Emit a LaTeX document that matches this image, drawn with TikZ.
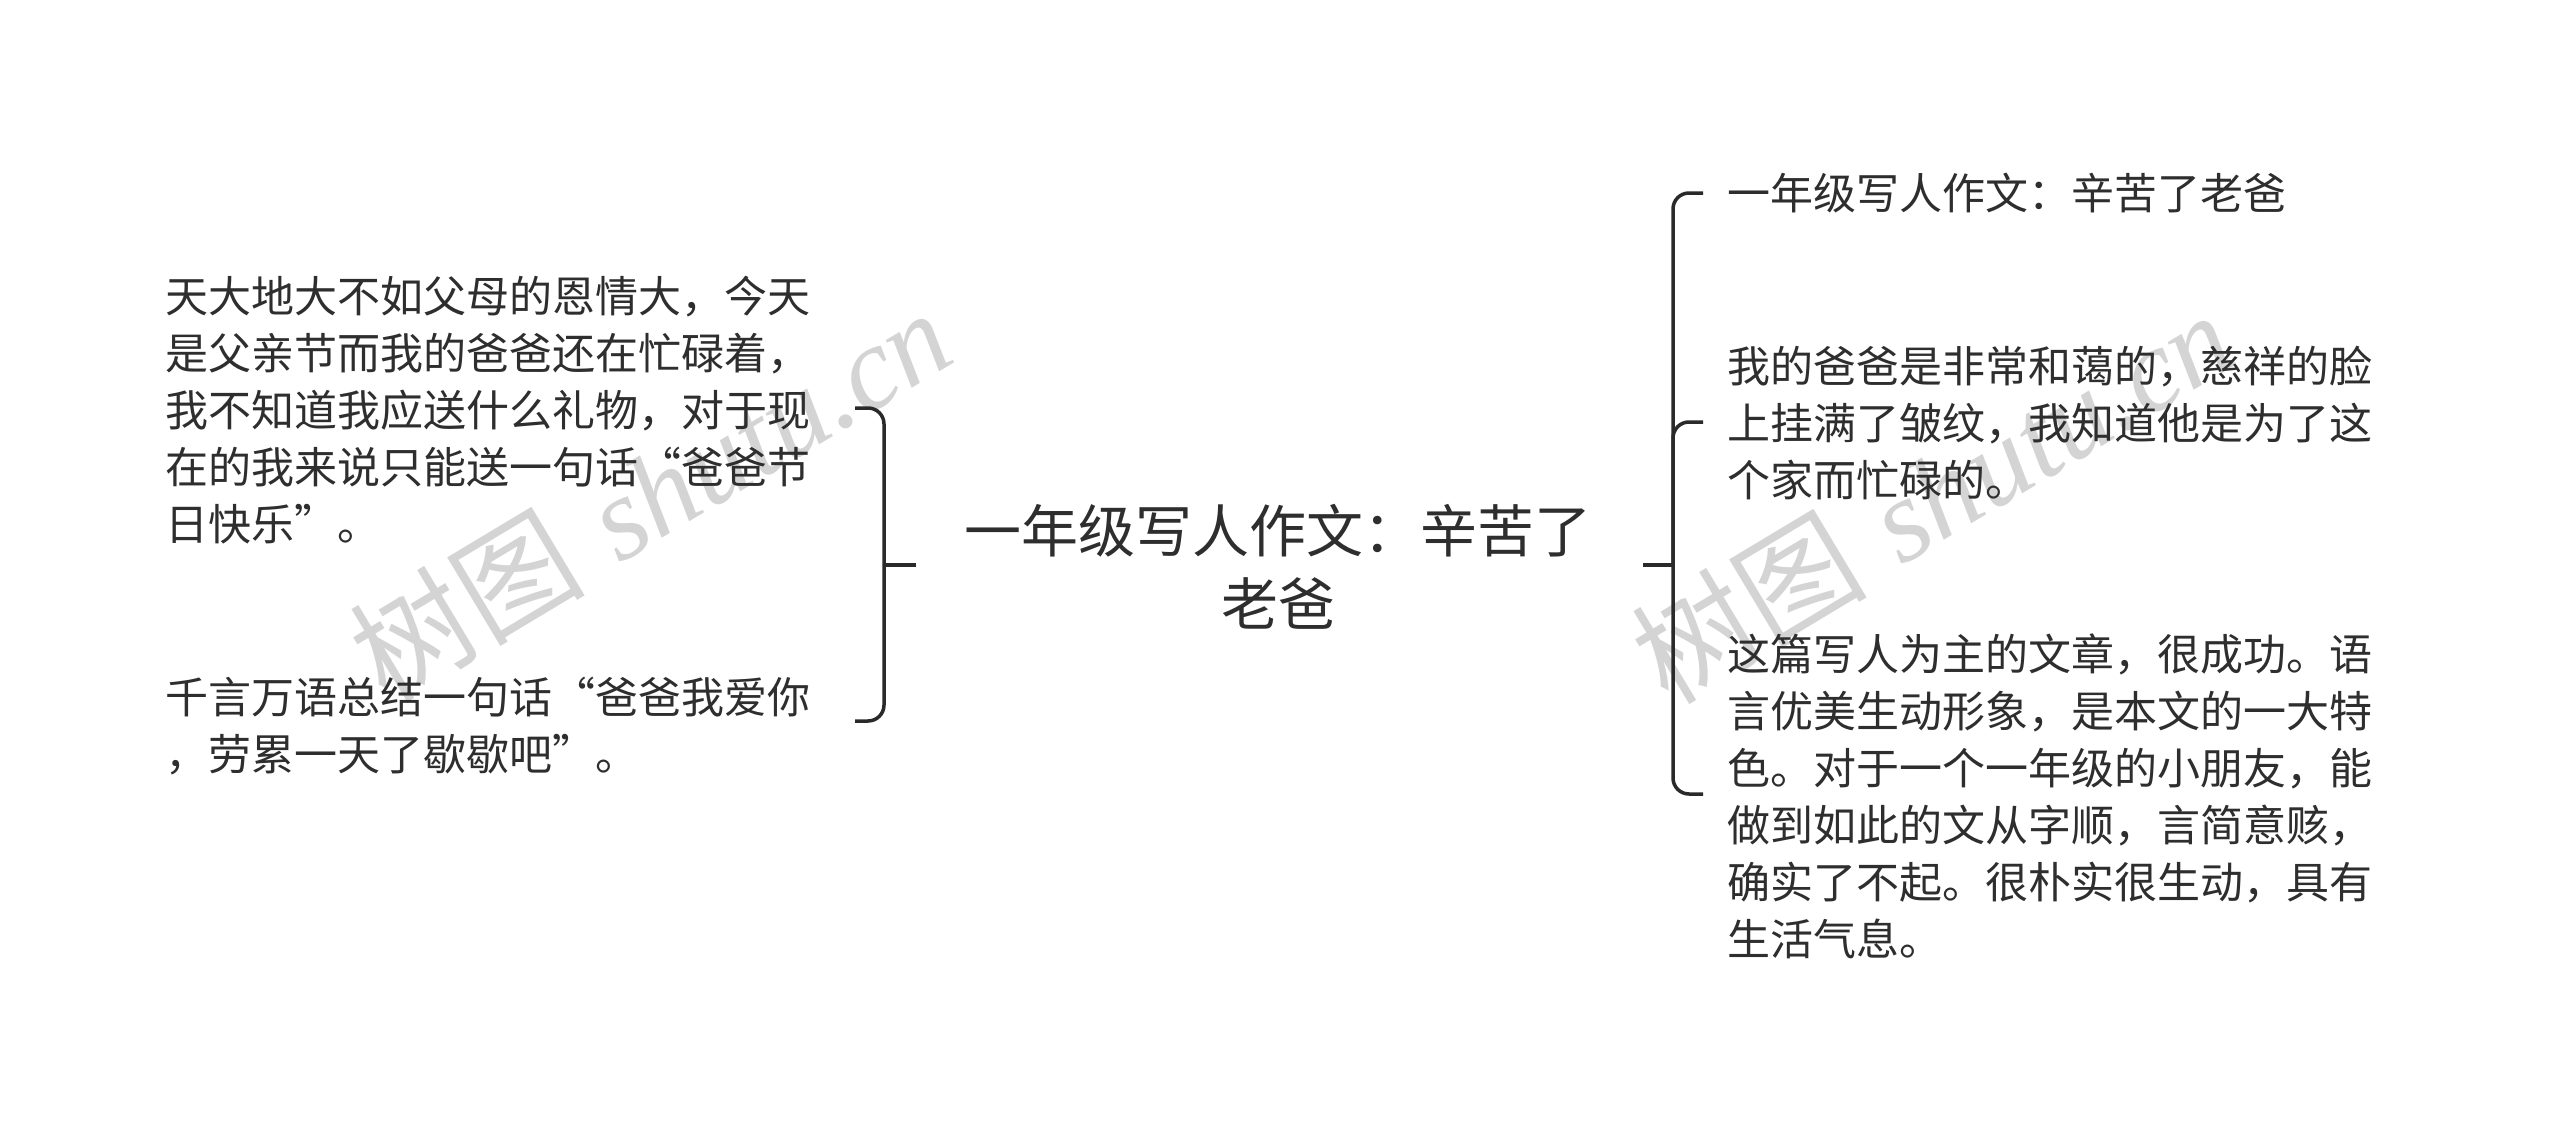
\documentclass[tikz,border=0pt]{standalone}
\usepackage{fontspec}
\newfontfamily\cjk{Noto Sans CJK SC}
\newfontfamily\wmserif{Liberation Serif}
\definecolor{txt}{HTML}{2E2E2E}
\definecolor{ln}{HTML}{2A2A2A}
\definecolor{wm}{HTML}{D4D4D4}
\begin{document}
\begin{tikzpicture}[x=1pt,y=-1pt,
  leaf/.style={inner sep=0pt, anchor=west, align=left, text=txt, font=\cjk\fontsize{43}{57}\selectfont},
  root/.style={inner sep=0pt, align=center, text=txt, font=\cjk\fontsize{57}{73}\selectfont},
  conn/.style={draw=ln, line width=3.5pt, rounded corners=16pt},
  stubline/.style={draw=ln, line width=3.5pt},
  wmark/.style={inner sep=0pt, text=wm, font=\fontsize{118}{118}\selectfont}
]
\useasboundingbox (0,0) rectangle (2560,1132);
\fill[white] (0,0) rectangle (2560,1132);

% watermarks
\node[wmark, rotate=31] (wm1) at (650,494) {{\cjk 树图} {\wmserif\itshape shutu.cn}};
\node[wmark, rotate=31] (wm2) at (1932,496) {{\cjk 树图} {\wmserif\itshape shutu.cn}};

% root
\node[root] (root) at (1278,567) {一年级写人作文：辛苦了\\老爸};

% left leaves
\node[leaf] (L1) at (165,410) {天大地大不如父母的恩情大，今天\\是父亲节而我的爸爸还在忙碌着，\\我不知道我应送什么礼物，对于现\\在的我来说只能送一句话“爸爸节\\日快乐”。};
\node[leaf] (L2) at (165,726) {千言万语总结一句话“爸爸我爱你\\，劳累一天了歇歇吧”。};

% right leaves
\node[leaf] (R1) at (1727,193) {一年级写人作文：辛苦了老爸};
\node[leaf] (R2) at (1727,423) {我的爸爸是非常和蔼的，慈祥的脸\\上挂满了皱纹，我知道他是为了这\\个家而忙碌的。};
\node[leaf] (R3) at (1727,796) {这篇写人为主的文章，很成功。语\\言优美生动形象，是本文的一大特\\色。对于一个一年级的小朋友，能\\做到如此的文从字顺，言简意赅，\\确实了不起。很朴实很生动，具有\\生活气息。};

% connector coordinates
\coordinate (ls) at (916,565);
\coordinate (lj) at (884,565);
\coordinate (lt1) at (855,408);
\coordinate (lt2) at (855,721);
\coordinate (rs) at (1643,565);
\coordinate (rj) at (1673,565);
\coordinate (rt1) at (1703,193);
\coordinate (rt2) at (1703,422);
\coordinate (rt3) at (1703,794);

% left bracket
\draw[stubline] (ls) -- (lj);
\draw[conn] (lj) |- (lt1);
\draw[conn] (lj) |- (lt2);

% right bracket
\draw[stubline] (rs) -- (rj);
\draw[conn] (rj) |- (rt1);
\draw[conn] (rj) |- (rt2);
\draw[conn] (rj) |- (rt3);
\end{tikzpicture}
\end{document}
